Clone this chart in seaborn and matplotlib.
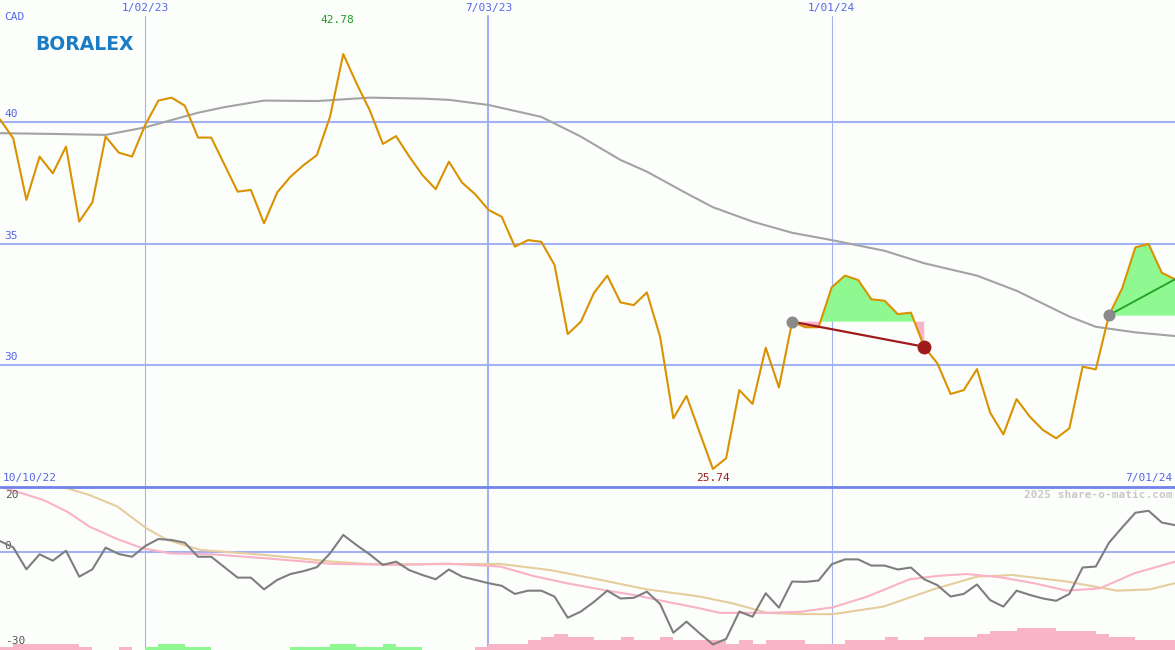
import pandas as pd
import matplotlib
matplotlib.use("Agg")
import matplotlib.pyplot as plt
import seaborn as sns

## Data ##

# weekly closing price (CAD), one value per week
price = [40.10, 39.32, 36.79, 38.57, 37.88, 38.98, 35.90, 36.69, 39.39, 38.73,
         38.57, 39.87, 40.87, 40.99, 40.66, 39.35, 39.35, 38.24, 37.13, 37.20,
         35.83, 37.10, 37.74, 38.22, 38.63, 40.21, 42.78, 41.58, 40.48, 39.09,
         39.41, 38.57, 37.81, 37.23, 38.36, 37.50, 37.02, 36.38, 36.10, 34.87,
         35.14, 35.07, 34.12, 31.28, 31.79, 32.98, 33.68, 32.58, 32.47, 32.99,
         31.17, 27.82, 28.74, 27.23, 25.74, 26.18, 28.98, 28.41, 30.72, 29.09,
         31.79, 31.56, 31.56, 33.20, 33.68, 33.50, 32.71, 32.65, 32.10, 32.16,
         30.76, 30.08, 28.82, 28.98, 29.84, 28.05, 27.16, 28.61, 27.89, 27.34,
         27.00, 27.41, 29.94, 29.83, 32.06, 33.16, 34.84, 34.98, 33.80, 33.53]
weeks = list(range(len(price)))

# long moving average
ma_weeks = [0, 4, 8, 11, 15, 17, 20, 24, 28, 32, 34, 37, 41, 44, 47, 49, 52, 54,
            57, 60, 63, 67, 70, 74, 77, 81, 83, 86, 89]
ma_values = [39.53, 39.50, 39.46, 39.77, 40.37, 40.60, 40.87, 40.85, 40.99, 40.95,
             40.90, 40.69, 40.20, 39.39, 38.43, 37.95, 37.06, 36.49, 35.90, 35.44,
             35.14, 34.70, 34.19, 33.68, 33.06, 32.00, 31.58, 31.35, 31.20]

# oscillator (lower panel)
osc = [3.4, 1.5, -5.25, -0.65, -2.6, 0.46, -7.5, -5.25, 1.4, -0.55,
       -1.4, 1.9, 4.05, 3.74, 2.9, -1.4, -1.4, -4.6, -7.8, -7.8,
       -11.4, -8.5, -6.7, -5.8, -4.6, -0.35, 5.3, 2.2, -0.65, -3.9,
       -2.9, -5.5, -7.0, -8.3, -5.3, -7.5, -8.5, -9.5, -10.3, -12.8,
       -11.8, -11.8, -13.6, -20.1, -18.2, -15.2, -11.8, -14.2, -14.0, -12.1,
       -15.9, -24.7, -21.3, -24.9, -28.3, -26.6, -18.2, -19.8, -12.6, -17.0,
       -9.0, -9.1, -8.7, -3.7, -2.2, -2.2, -4.1, -4.1, -5.3, -4.7,
       -8.3, -10.1, -13.6, -12.8, -9.9, -14.7, -16.7, -11.8, -13.1, -14.2,
       -14.9, -12.8, -4.7, -4.4, 2.9, 7.6, 12.1, 12.7, 9.1, 8.3]

pink_weeks = [0, 1.5, 3.3, 5.1, 6.8, 8.9, 10.8, 12.9, 16.1, 20.2, 25.2, 30.3,
              33.9, 37.9, 40.4, 42.9, 46.0, 48.0, 50.5, 53.0, 54.5, 58.1, 60.6,
              63.1, 65.7, 68.9, 71.2, 73.2, 75.8, 78.3, 80.8, 83.3, 85.9, 89]
pink_vals = [20.1, 18.3, 16.0, 12.4, 7.8, 4.0, 1.2, -0.35, -0.65, -1.9, -3.6, -3.9,
             -3.5, -4.4, -7.3, -9.5, -11.8, -13.1, -15.2, -17.2, -18.6, -18.6, -18.3,
             -16.9, -13.6, -8.3, -7.2, -6.7, -7.7, -9.5, -11.8, -11.1, -6.5, -2.9]

tan_weeks = [0, 2.5, 5.1, 6.8, 8.9, 11.1, 12.7, 15.2, 20.2, 25.2, 27.8, 30.3,
             37.9, 41.7, 45.5, 49.0, 53.0, 55.5, 58.1, 60.6,
             63.1, 66.9, 70.7, 74.0, 76.7, 80.8, 84.6, 87.1, 89]
tan_vals = [21.0, 20.6, 19.6, 17.5, 14.0, 7.3, 3.7, 0.7, -0.9, -2.9, -3.6, -3.7,
            -3.6, -5.5, -8.5, -11.4, -13.6, -15.7, -18.6, -19.0,
            -19.0, -16.7, -11.4, -7.5, -7.0, -9.0, -11.8, -11.4, -9.5]

# histogram steps at the bottom (+ green, - pink), one per week
bar_levels = [-1, -2, -2, -2, -2, -2, -1, 0, 0, -1,
              0, 1, 2, 2, 1, 1, 0, 0, 0, 0,
              0, 0, 1, 1, 1, 2, 2, 1, 1, 2,
              1, 1, 0, 0, 0, 0, -1, -2, -2, -2,
              -3, -4, -5, -4, -4, -3, -3, -4, -3, -3,
              -4, -3, -3, -3, -3, -2, -3, -2, -3, -3,
              -3, -2, -2, -2, -3, -3, -3, -4, -3, -3,
              -4, -4, -4, -4, -5, -6, -6, -7, -7, -7,
              -6, -6, -6, -5, -4, -4, -3, -3, -3]

date_weeks = [11, 37, 63]
date_labels = ['1/02/23', '7/03/23', '1/01/24']
start_label, end_label = '10/10/22', '7/01/24'
price_grid = [40, 35, 30]
high_idx, low_idx = 26, 54
signal_a = (60, 70)   # start / end week of the first signal
signal_b = 84          # start week of the open signal

## Style ##
BG = '#fcfefc'
GRID = '#a3b2f3'
DIV = '#6f83ea'
LBL = '#5566e6'
MONO = 'DejaVu Sans Mono'
W, H = 1175, 650

sns.set_style('white', {'axes.facecolor': BG, 'figure.facecolor': BG})

fig = plt.figure(figsize=(W / 100, H / 100), dpi=100)
split = 163 / H
ax1 = fig.add_axes([0, split, 1, 1 - split])
ax2 = fig.add_axes([0, 0, 1, split])
for ax in (ax1, ax2):
    ax.set_xlim(0, len(price) - 1)
    ax.set_xticks([])
    ax.set_yticks([])
    for s in ax.spines.values():
        s.set_visible(False)
ax1.set_ylim(25, 45)
ax2.set_ylim(-30, 20)

## Upper panel ##
for g in price_grid:
    ax1.axhline(g, color=GRID, lw=1.5, zorder=1)
    ax1.text(0.004, g + 0.12, str(g), transform=ax1.get_yaxis_transform(),
             color=LBL, fontsize=8, family=MONO, va='bottom')
top_frac = 1 - 16 / 487
for wk, lab in zip(date_weeks, date_labels):
    lw = 1.5 if lab.startswith('7/') else 0.8
    ax1.axvline(wk, ymax=top_frac, color=GRID, lw=lw, zorder=1)
    ax2.axvline(wk, color=GRID, lw=lw, zorder=1)
    ax1.text(wk, 1 - 8 / 487, lab, transform=ax1.get_xaxis_transform(),
             color=LBL, fontsize=8, family=MONO, ha='center', va='center')

df = pd.DataFrame({'week': weeks, 'price': price})
lvl_a = price[signal_a[0]]
seg = df.iloc[signal_a[0]:signal_a[1] + 1]
ax1.fill_between(seg['week'], seg['price'], lvl_a, where=seg['price'] >= lvl_a,
                 interpolate=True, color='#90f890', lw=0, zorder=2)
ax1.fill_between(seg['week'], seg['price'], lvl_a, where=seg['price'] < lvl_a,
                 interpolate=True, color='#f9b4c8', lw=0, zorder=2)
lvl_b = price[signal_b]
seg_b = df.iloc[signal_b:]
ax1.fill_between(seg_b['week'], seg_b['price'], lvl_b, where=seg_b['price'] >= lvl_b,
                 interpolate=True, color='#90f890', lw=0, zorder=2)

sns.lineplot(x=ma_weeks, y=ma_values, ax=ax1, color='#a3a3a3', lw=1.5, zorder=3)
sns.lineplot(data=df, x='week', y='price', ax=ax1, color='#d99200', lw=1.5, zorder=4)
ax1.set_xlabel('')
ax1.set_ylabel('')

ax1.plot([signal_a[0], signal_a[1]], [lvl_a, price[signal_a[1]]], color='#a01c1c', lw=1.6, zorder=5)
ax1.scatter([signal_a[0]], [lvl_a], s=75, color='#8a8a8a', zorder=6, lw=0)
ax1.scatter([signal_a[1]], [price[signal_a[1]]], s=100, color='#a01c1c', zorder=6, lw=0)
ax1.plot([signal_b, weeks[-1]], [lvl_b, price[-1]], color='#22a022', lw=1.3, zorder=5)
ax1.scatter([signal_b], [lvl_b], s=75, color='#8a8a8a', zorder=6, lw=0)

ax1.text(high_idx - 0.45, 1 - 20 / 487, f'{price[high_idx]:.2f}', transform=ax1.get_xaxis_transform(),
         color='#1f9a1f', fontsize=8, family=MONO, ha='center', va='center')
ax1.text(low_idx, 9 / 487, f'{price[low_idx]:.2f}', transform=ax1.get_xaxis_transform(),
         color='#a01c1c', fontsize=8, family=MONO, ha='center', va='center')
ax1.text(0.004, 1 - 17 / 487, 'CAD', transform=ax1.transAxes,
         color=LBL, fontsize=8, family=MONO, va='center')
ax1.text(0.0025, 9 / 487, start_label, transform=ax1.transAxes,
         color=LBL, fontsize=8, family=MONO, va='center')
ax1.text(0.9975, 9 / 487, end_label, transform=ax1.transAxes,
         color=LBL, fontsize=8, family=MONO, va='center', ha='right')
ax1.text(35 / W, 1 - 44 / 487, 'BORALEX', transform=ax1.transAxes,
         color='#1b7cc6', fontsize=13.5, fontweight='bold', family='DejaVu Sans', va='center')

## Lower panel ##
ax2.axhline(0, color=GRID, lw=1.5, zorder=1)
ax2.axhline(20, color=DIV, lw=2, zorder=7, clip_on=False)
for i, lv in enumerate(bar_levels):
    if lv != 0:
        ax2.bar(i, abs(lv) * 0.98, bottom=-30, width=1, align='edge',
                color='#90f890' if lv > 0 else '#f9b4c8', lw=0, zorder=2)
sns.lineplot(x=tan_weeks, y=tan_vals, ax=ax2, color='#e6cd9e', lw=1.5, zorder=3)
sns.lineplot(x=pink_weeks, y=pink_vals, ax=ax2, color='#f9b2c6', lw=1.5, zorder=3)
sns.lineplot(x=weeks, y=osc, ax=ax2, color='#7e7e7e', lw=1.5, zorder=4)
ax2.set_xlabel('')
ax2.set_ylabel('')

for val, ypx in [('20', 8), ('0', 59), ('-30', 154)]:
    ax2.text(0.004, 1 - ypx / 163, val, transform=ax2.transAxes,
             color='#555555', fontsize=8, family=MONO, va='center')
ax2.text(0.9975, 1 - 8 / 163, '2025 share-o-matic.com', transform=ax2.transAxes,
         color='#c8c8c8', fontsize=8, family=MONO, fontweight='bold', va='center', ha='right')

fig.savefig('out.png', dpi=100, facecolor=BG)
